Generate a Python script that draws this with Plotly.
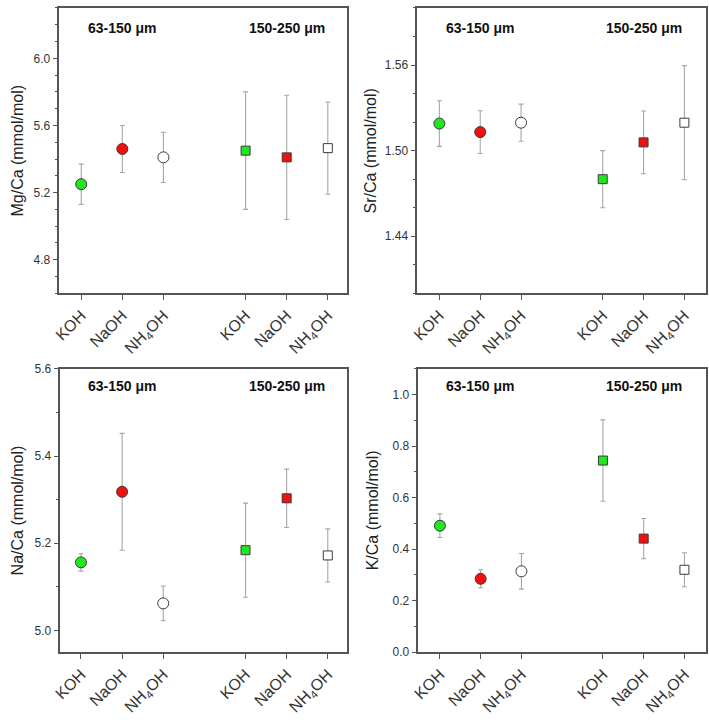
import plotly.graph_objects as go

# ---- data ----
reagents = ["KOH", "NaOH", "NH<sub>4</sub>OH", "KOH", "NaOH", "NH<sub>4</sub>OH"]
xpos = [1, 2, 3, 5, 6, 7]
size_groups = ["63-150 μm", "150-250 μm"]

mg = [5.25, 5.46, 5.41, 5.45, 5.41, 5.465]
mg_err = [0.12, 0.14, 0.15, 0.35, 0.37, 0.275]

sr = [1.519, 1.513, 1.5196, 1.480, 1.5058, 1.5196]
sr_err = [0.016, 0.015, 0.013, 0.020, 0.022, 0.040]

na = [5.156, 5.318, 5.062, 5.184, 5.303, 5.172]
na_err = [0.020, 0.134, 0.040, 0.108, 0.067, 0.061]

kca = [0.491, 0.285, 0.314, 0.744, 0.441, 0.320]
kca_err = [0.046, 0.035, 0.069, 0.158, 0.078, 0.066]

titles = ["Mg/Ca (mmol/mol)", "Sr/Ca (mmol/mol)", "Na/Ca (mmol/mol)", "K/Ca (mmol/mol)"]

# ---- styling ----
W, H = 709, 720
colors = ["#1ee81e", "#f01010", "#ffffff", "#1ee81e", "#f01010", "#ffffff"]
symbols = ["circle", "circle", "circle", "square", "square", "square"]
msizes = [11, 11, 11, 9, 9, 9]
AX = "#555555"
FONT = "Arial, Liberation Sans, sans-serif"

# panel pixel boxes: (left, right, top, bottom)
boxes = [(52, 343, 1, 292), (414, 706, 1, 292), (53, 343, 369, 658), (415, 706, 369, 658)]
xranges = [[0.47, 7.47], [0.46, 7.53], [0.5, 7.47], [0.47, 7.53]]
yranges = [[4.6, 6.3], [1.40, 1.60], [4.95, 5.6], [0.0, 1.1]]
ytick0 = [4.8, 1.44, 5.0, 0.0]
ydtick = [0.4, 0.06, 0.2, 0.2]
yminor = [0.1, 0.02, 0.1, 0.1]
yfmt = [".1f", ".2f", ".1f", ".1f"]
title_x = [10, 367, 10, 369]
label_dy = [20, 20, 18, 18]
datasets = [(mg, mg_err), (sr, sr_err), (na, na_err), (kca, kca_err)]

fig = go.Figure()
layout = dict(width=W, height=H, margin=dict(l=0, r=0, t=0, b=0),
              paper_bgcolor="white", plot_bgcolor="white", showlegend=False,
              font=dict(family=FONT, color="#333333"))
annotations = []

for i, ((vals, errs), (l, r, t, b)) in enumerate(zip(datasets, boxes)):
    n = "" if i == 0 else str(i + 1)
    xa, ya = "x" + n, "y" + n
    fig.add_trace(go.Scatter(
        x=xpos, y=vals, xaxis=xa, yaxis=ya, mode="markers",
        marker=dict(symbol=symbols, color=colors, size=msizes, opacity=1,
                    line=dict(color="#3a3a3a", width=1)),
        error_y=dict(type="data", array=errs, visible=True,
                     color="#a6a6a6", thickness=1.1, width=2.5),
        opacity=1, cliponaxis=False))
    layout["xaxis" + n] = dict(
        domain=[l / W, r / W], anchor=ya, range=xranges[i],
        tickmode="array", tickvals=xpos, ticktext=reagents, tickangle=-45,
        tickfont=dict(size=16, color="#333333", family=FONT),
        ticks="outside", ticklen=5, tickcolor=AX, tickwidth=1,
        showline=True, linecolor=AX, linewidth=1.5, mirror=True,
        showgrid=False, zeroline=False)
    layout["yaxis" + n] = dict(
        domain=[1 - b / H, 1 - t / H], anchor=xa, range=yranges[i],
        tick0=ytick0[i], dtick=ydtick[i], tickformat=yfmt[i],
        tickfont=dict(size=12, color="#333333", family=FONT),
        ticks="outside", ticklen=5, tickcolor=AX, tickwidth=1,
        minor=dict(tick0=ytick0[i], dtick=yminor[i], ticks="outside",
                   ticklen=3, tickcolor=AX, tickwidth=1),
        showline=True, linecolor=AX, linewidth=1.5, mirror=True,
        showgrid=False, zeroline=False)
    annotations.append(dict(
        text=titles[i], xref="paper", yref="paper", x=title_x[i] / W,
        y=1 - (t + b) / 2 / H, textangle=-90, showarrow=False,
        xanchor="center", yanchor="middle",
        font=dict(size=16, color="#222222", family=FONT)))
    for gx, g in zip([2, 6], size_groups):
        annotations.append(dict(
            text="<b>" + g + "</b>", xref=xa, yref=ya + " domain", x=gx,
            y=1 - label_dy[i] / (b - t), showarrow=False,
            xanchor="center", yanchor="middle",
            font=dict(size=14, color="#111111", family=FONT)))

layout["annotations"] = annotations
fig.update_layout(**layout)
fig.write_html("out.html")
